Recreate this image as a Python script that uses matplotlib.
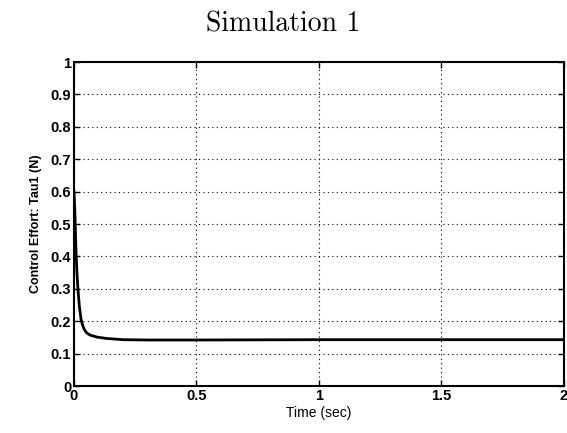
import matplotlib
matplotlib.use('Agg')
import matplotlib.pyplot as plt
import numpy as np

# values
t = [0, 0.003, 0.008, 0.012, 0.016, 0.022, 0.029, 0.035, 0.04, 0.047, 0.053, 0.062, 0.07, 0.08, 0.094,
     0.13, 0.2, 0.3, 0.5, 1.0, 1.5, 2.0]
tau1 = [0.6, 0.55, 0.42, 0.35, 0.30, 0.245, 0.205, 0.188, 0.178, 0.169, 0.163, 0.159, 0.156, 0.154, 0.151,
        0.147, 0.143, 0.142, 0.142, 0.143, 0.143, 0.143]

xticks = [0, 0.5, 1, 1.5, 2]
xticklabels = ['0', '0.5', '1', '1.5', '2']
yticks = np.round(np.arange(0, 1.01, 0.1), 1)
yticklabels = ['0', '0.1', '0.2', '0.3', '0.4', '0.5', '0.6', '0.7', '0.8', '0.9', '1']

fig = plt.figure(figsize=(5.67, 4.33), dpi=100)
ax = fig.add_axes([0.1305, 0.1085, 0.8642, 0.7483])

ax.plot(t, tau1, color='black', linewidth=2)

ax.set_xlim(0, 2)
ax.set_ylim(0, 1)
ax.set_xticks(xticks)
ax.set_xticklabels(xticklabels, fontfamily='Liberation Sans', fontweight='bold', fontsize=10.5)
ax.set_yticks(yticks)
ax.set_yticklabels(yticklabels, fontfamily='Liberation Sans', fontweight='bold', fontsize=10.5)
ax.tick_params(direction='in', length=4, width=1, pad=2, top=True, right=True)
ax.grid(True, linestyle=(0, (1, 3)), color='black', linewidth=0.8)
for s in ax.spines.values():
    s.set_linewidth(1.5)

ax.set_xlabel('Time (sec)', fontfamily='Liberation Sans', fontsize=10, labelpad=2)
ax.set_ylabel('Control Effort: Tau1 (N)', fontfamily='Liberation Sans', fontsize=9,
              fontweight='bold', labelpad=6)
fig.suptitle('Simulation 1', fontfamily='cmr10', fontsize=20, y=0.975)

fig.savefig('out.png', dpi=100)
